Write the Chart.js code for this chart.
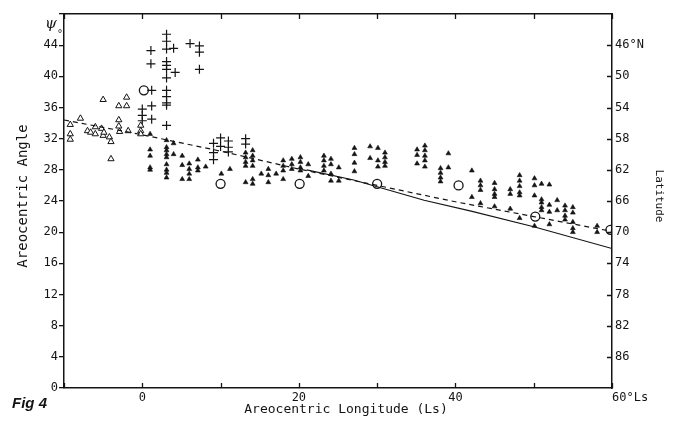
<!DOCTYPE html>
<html>
<head>
<meta charset="utf-8">
<script src="https://cdn.jsdelivr.net/npm/chart.js@4.4.0/dist/chart.umd.min.js"></script>
<style>
  html, body { margin: 0; padding: 0; background: #fff; }
</style>
</head>
<body>
<canvas id="c" width="676" height="421"></canvas>
<script>
// ── Data ─────────────────────────────────────────────────────
const openTriLs  = [-9.2, -9.2, -9.2, -7.9, -7.0, -6.6, -6.0, -6.0, -5.2, -5.0, -4.9, -4.2, -4.0, -4.0, -5.0, -3.0, -2.0, -2.0, -3.0, -3.0, -2.9, -1.8, -0.2, -0.2, -0.2];
const openTriPsi = [33.8, 32.6, 31.9, 34.6, 33.0, 32.8, 33.5, 32.6, 33.3, 32.4, 32.8, 32.2, 31.6, 29.4, 37.0, 36.2, 36.2, 37.3, 34.4, 33.6, 32.9, 33.0, 33.7, 33.0, 32.6];

const plusLs  = [0, 0, 0, 1.2, 1.2, 1.2, 1.1, 1.1, 3.1, 3.1, 3.1, 4.0, 3.1, 3.1, 3.1, 3.1, 4.2, 3.1, 3.1, 3.1, 3.1, 3.1, 6.1, 7.3, 7.3, 7.3, 9.1, 9.1, 9.1, 10.0, 10.0, 11.0, 11.0, 11.0, 13.2, 13.2];
const plusPsi = [35.8, 35.0, 34.3, 38.2, 36.2, 34.5, 43.3, 41.6, 45.4, 44.5, 43.5, 43.6, 41.9, 41.4, 40.9, 39.8, 40.5, 38.2, 37.4, 36.6, 36.3, 33.7, 44.2, 43.9, 43.1, 40.9, 31.4, 30.2, 29.3, 32.1, 31.0, 31.7, 30.9, 30.3, 32.0, 31.3];

const filledLs = [
  1.0, 1.0, 1.0, 1.0, 1.0,
  3.1, 3.1, 3.1, 3.1, 3.1, 3.1, 3.1, 3.1, 3.1,
  4.0, 4.0, 5.1, 5.1, 5.1, 6.0, 6.0, 6.0, 6.0, 7.1, 7.1, 7.1, 8.1, 10.1, 11.2,
  13.2, 13.2, 13.2, 13.2, 13.2, 14.1, 14.1, 14.1, 14.1, 14.1, 14.1, 15.2, 16.1, 16.1, 16.1, 17.1,
  18.0, 18.0, 18.0, 18.0, 19.1, 19.1, 19.1, 20.2, 20.2, 20.2, 20.2, 21.2, 21.2,
  23.2, 23.2, 23.2, 23.2, 24.1, 24.1, 24.1, 24.1, 25.1, 25.1, 27.1, 27.1, 27.1, 27.1,
  29.1, 29.1, 30.1, 30.1, 30.1, 31.0, 31.0, 31.0, 31.0,
  35.1, 35.1, 35.1, 36.1, 36.1, 36.1, 36.1, 36.1, 38.1, 38.1, 38.1, 38.1, 39.1, 39.1,
  42.1, 42.1, 43.2, 43.2, 43.2, 43.2, 45.0, 45.0, 45.0, 45.0, 45.0, 47.0, 47.0, 47.0,
  48.2, 48.2, 48.2, 48.2, 48.2, 48.2, 50.1, 50.1, 50.1, 50.1, 51.0, 51.0, 51.0, 51.0, 51.0,
  52.0, 52.0, 52.0, 52.0, 53.0, 53.0, 54.0, 54.0, 54.0, 54.0, 55.0, 55.0, 55.0, 55.0, 55.0, 58.1, 58.1
];
const filledPsi = [
  32.6, 30.6, 29.8, 28.3, 28.0,
  31.8, 30.9, 30.5, 30.0, 29.6, 28.7, 28.0, 27.6, 27.0,
  31.4, 30.0, 29.8, 28.6, 26.8, 28.8, 28.1, 27.5, 26.8, 29.3, 28.3, 27.9, 28.4, 27.5, 28.1,
  30.2, 29.6, 29.0, 28.5, 26.4, 30.5, 29.8, 29.2, 28.5, 26.8, 26.2, 27.5, 28.1, 27.3, 26.4, 27.5,
  29.2, 28.5, 27.9, 26.8, 29.4, 28.7, 28.1, 29.6, 29.0, 28.3, 27.9, 28.7, 27.2,
  29.8, 29.2, 28.5, 27.9, 29.4, 28.7, 27.5, 26.6, 28.3, 26.6, 30.8, 30.0, 28.9, 27.8,
  31.0, 29.5, 30.8, 29.2, 28.4, 30.2, 29.6, 29.0, 28.5,
  30.6, 29.9, 28.8, 31.1, 30.5, 29.8, 29.2, 28.4, 28.2, 27.6, 27.0, 26.5, 30.1, 28.3,
  27.9, 24.5, 26.6, 26.0, 25.4, 23.7, 26.3, 25.5, 24.9, 24.5, 23.3, 25.5, 24.9, 23.0,
  27.3, 26.6, 25.9, 25.1, 24.7, 21.8, 26.9, 26.0, 24.7, 20.8, 26.2, 24.2, 23.8, 23.2, 22.8,
  26.1, 23.5, 22.6, 21.0, 24.1, 22.8, 23.4, 22.8, 22.1, 21.6, 23.2, 22.5, 21.3, 20.5, 20.0, 20.8, 20.0
];

const circleLs  = [0.2, 10.0, 20.1, 30.0, 40.4, 50.2, 59.8];
const circlePsi = [38.2, 26.2, 26.2, 26.2, 26.0, 22.0, 20.3];

const dashedLs  = [-10, 0, 10, 20, 30, 40, 50, 60];
const dashedPsi = [34.4, 32.5, 30.4, 28.1, 26.0, 23.9, 22.0, 20.1];

const solidLs  = [21, 27, 36, 42, 50, 60];
const solidPsi = [28.0, 26.7, 24.1, 22.7, 20.7, 17.9];

const lsTicks   = [-10, 0, 10, 20, 30, 40, 50, 60];
const lsLabels  = [0, 20, 40];
const latTicks  = [46, 50, 54, 58, 62, 66, 70, 74, 78, 82, 86];

// ── Helpers ──────────────────────────────────────────────────
const INK  = '#141414';
const MONO = '"DejaVu Sans Mono", monospace';
const pts  = (xs, ys) => xs.map((x, i) => ({ x, y: ys[i] }));

const axisBorder = { display: true, color: INK, width: 1.5 };
const noGrid     = { drawOnChartArea: false, drawTicks: false };

// inward tick marks on bottom/top/right, plus the loose texts
const decor = {
  id: 'decor',
  afterDraw(chart) {
    const { ctx, chartArea: a, scales } = chart;
    ctx.save();
    ctx.strokeStyle = INK;
    ctx.lineWidth = 1.3;
    ctx.beginPath();
    lsTicks.forEach(v => {
      const px = Math.round(scales.x.getPixelForValue(v)) + 0.5;
      ctx.moveTo(px, a.bottom); ctx.lineTo(px, a.bottom - 5);
      ctx.moveTo(px, a.top);    ctx.lineTo(px, a.top + 5);
    });
    latTicks.forEach(v => {
      const py = Math.round(scales.y2.getPixelForValue(v)) + 0.5;
      ctx.moveTo(a.right - 5, py); ctx.lineTo(a.right, py);
    });
    ctx.stroke();

    ctx.fillStyle = INK;
    ctx.textBaseline = 'middle';
    ctx.textAlign = 'center';

    // left axis title
    ctx.save();
    ctx.translate(23, 196);
    ctx.rotate(-Math.PI / 2);
    ctx.font = `14px ${MONO}`;
    ctx.fillText('Areocentric Angle', 0, 0);
    ctx.restore();

    // right axis title
    ctx.save();
    ctx.translate(659, 196);
    ctx.rotate(Math.PI / 2);
    ctx.font = `11px ${MONO}`;
    ctx.fillText('Latitude', 0, 0);
    ctx.restore();

    ctx.font = `13px ${MONO}`;
    ctx.fillText('Areocentric Longitude (Ls)', 346, 410);

    ctx.font = 'italic 15px "DejaVu Serif", serif';
    ctx.fillText('ψ', 51, 24);
    ctx.font = `10px ${MONO}`;
    ctx.fillText('°', 60, 34);

    ctx.textAlign = 'left';
    ctx.font = 'bold italic 15px "Liberation Sans", sans-serif';
    ctx.fillText('Fig 4', 12, 404);
    ctx.restore();
  },
};

// ── Chart ────────────────────────────────────────────────────
new Chart(document.getElementById('c'), {
  type: 'scatter',
  data: {
    datasets: [
      {
        type: 'line', data: pts(dashedLs, dashedPsi),
        borderColor: INK, borderWidth: 1.2, borderDash: [5, 4],
        pointRadius: 0, fill: false, tension: 0,
      },
      {
        type: 'line', data: pts(solidLs, solidPsi),
        borderColor: INK, borderWidth: 1.2,
        pointRadius: 0, fill: false, tension: 0,
      },
      {
        data: pts(openTriLs, openTriPsi), pointStyle: 'triangle', pointRadius: 3.6,
        borderColor: INK, backgroundColor: '#fff', borderWidth: 1,
      },
      {
        data: pts(plusLs, plusPsi), pointStyle: 'cross', pointRadius: 4.5,
        borderColor: INK, borderWidth: 1.2,
      },
      {
        data: pts(filledLs, filledPsi), pointStyle: 'triangle', pointRadius: 2.8,
        borderColor: INK, backgroundColor: INK, borderWidth: 0.6,
      },
      {
        data: pts(circleLs, circlePsi), pointStyle: 'circle', pointRadius: 4.5,
        borderColor: INK, backgroundColor: 'rgba(0,0,0,0)', borderWidth: 1.3,
      },
    ],
  },
  options: {
    responsive: false,
    animation: false,
    layout: { padding: 0 },
    plugins: { legend: { display: false }, tooltip: { enabled: false } },
    scales: {
      x: {
        type: 'linear', position: 'bottom', min: -10, max: 60,
        afterFit: s => { s.height = 33; },
        afterBuildTicks: s => { s.ticks = lsTicks.map(v => ({ value: v })); },
        ticks: {
          autoSkip: false, maxRotation: 0, padding: 3, color: INK,
          font: { family: MONO, size: 12 },
          callback: v => v === 60 ? '     60°Ls' : (lsLabels.includes(v) ? String(v) : ''),
        },
        grid: noGrid, border: axisBorder,
      },
      x2: {
        type: 'linear', position: 'top', min: -10, max: 60,
        afterFit: s => { s.height = 14; },
        ticks: { display: false },
        grid: noGrid, border: axisBorder,
      },
      y: {
        type: 'linear', position: 'left', min: 0, max: 48,
        afterFit: s => { s.width = 64; },
        ticks: {
          stepSize: 4, padding: 1, color: INK,
          font: { family: MONO, size: 12 },
          callback: v => v === 48 ? '' : String(v),
        },
        grid: { drawOnChartArea: false, drawTicks: true, tickLength: 5, color: INK, lineWidth: 1.3 },
        border: axisBorder,
      },
      y2: {
        type: 'linear', position: 'right', min: 42, max: 90, reverse: true,
        afterFit: s => { s.width = 64; },
        afterBuildTicks: s => { s.ticks = latTicks.map(v => ({ value: v })); },
        ticks: {
          autoSkip: false, padding: 3, color: INK,
          font: { family: MONO, size: 12 },
          callback: v => v === 46 ? '46°N' : String(v),
        },
        grid: noGrid, border: axisBorder,
      },
    },
  },
  plugins: [decor],
});
</script>
</body>
</html>
